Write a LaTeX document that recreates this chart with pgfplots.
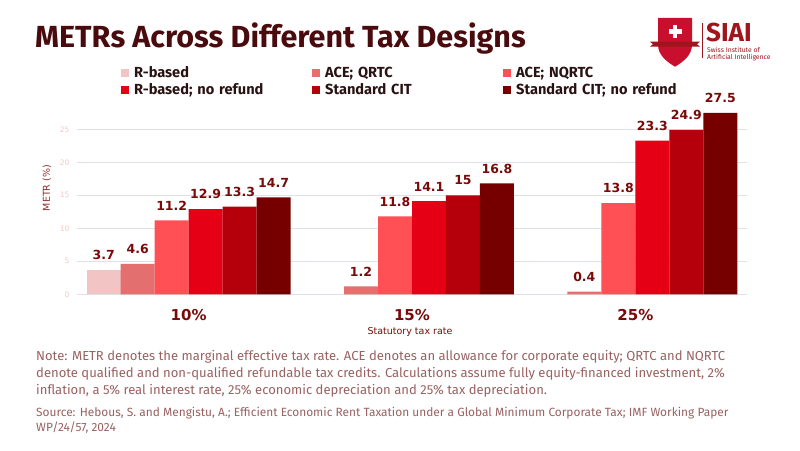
\documentclass[border=0pt]{standalone}
\usepackage{fontspec}
\setmainfont{Fira Sans}
\newfontfamily\dejavu{DejaVu Sans}
\usepackage{pgfplots}
\pgfplotsset{compat=1.18}
\definecolor{c1}{HTML}{F2C4C4}
\definecolor{c2}{HTML}{E36F6F}
\definecolor{c3}{HTML}{FF5055}
\definecolor{c4}{HTML}{E60016}
\definecolor{c5}{HTML}{B5000B}
\definecolor{c6}{HTML}{760000}
\definecolor{titlec}{HTML}{4A0B0E}
\definecolor{labc}{HTML}{7A0A0A}
\definecolor{ylabc}{HTML}{8E2E2E}
\definecolor{tickc}{HTML}{F5C8C8}
\definecolor{gridc}{HTML}{DFE1EA}
\definecolor{notec}{HTML}{9A6262}
\definecolor{legc}{HTML}{2A1212}
\definecolor{logor}{HTML}{C8102E}
\definecolor{logod}{HTML}{A0141E}
\begin{document}
\begin{tikzpicture}
\useasboundingbox[fill=white] (0,0) rectangle (800pt,450pt);
% title
\node[anchor=base west, text=titlec, font=\bfseries\fontsize{30.5}{30.5}\selectfont, inner sep=0pt] at (35pt,402pt) {METRs Across Different Tax Designs};
% logo
\fill[logor] (658pt,432pt) -- (692pt,432pt) -- (692pt,405pt) .. controls (692pt,395pt) and (683pt,388pt) .. (675pt,383.3pt) .. controls (667pt,388pt) and (658pt,395pt) .. (658pt,405pt) -- cycle;
\fill[logod] (650pt,408.3pt) -- (700pt,408.3pt) -- (697pt,405.8pt) -- (700pt,403.3pt) -- (650pt,403.3pt) -- (653pt,405.8pt) -- cycle;
\fill[white] (672.8pt,412pt) rectangle (677.2pt,425pt);
\fill[white] (668.5pt,416.3pt) rectangle (681.5pt,420.7pt);
\draw[logod, line width=0.8pt] (702pt,427pt) -- (702pt,392pt);
\node[anchor=base west, inner sep=0pt, text=logod, font=\bfseries\fontsize{26}{26}\selectfont] at (706pt,408.5pt) {SIAI};
\node[anchor=base west, inner sep=0pt, text=logod, font=\fontsize{6.8}{7}\selectfont] at (707pt,397.3pt) {Swiss Institute of};
\node[anchor=base west, inner sep=0pt, text=logod, font=\fontsize{6.8}{7}\selectfont] at (707pt,390.8pt) {Artificial Intelligence};
\begin{axis}[
  at={(77pt,155.7pt)}, anchor=south west, scale only axis,
  width=670pt, height=198pt,
  xmin=-0.5, xmax=2.5, ymin=0, ymax=30,
  ybar=0pt, bar width=0.1522,
  axis line style={draw=none}, major tick length=0pt,
  ymajorgrids, grid style={gridc, line width=0.9pt},
  ytick={0,5,...,25},
  yticklabel style={font=\dejavu\fontsize{7.5}{8}\selectfont, text=tickc, xshift=-4pt},
  /pgf/number format/assume math mode=true,
  xtick={0,1,2}, xticklabels={10\%,15\%,25\%},
  xticklabel style={font=\dejavu\bfseries\fontsize{15}{15}\selectfont, text=labc, yshift=-12pt},
  nodes near coords,
  every node near coord/.append style={font=\dejavu\bfseries\fontsize{12.5}{12.5}\selectfont, text=labc, anchor=south, inner sep=0pt, yshift=10pt},
  legend columns=3,
  legend image code/.code={\fill[#1, draw=none] (0pt,-4pt) rectangle (8pt,4pt);},
  legend style={draw=none, fill=none, at={(0.0612,1.16)}, anchor=north west,
    font=\bfseries\fontsize{14.6}{14.6}\selectfont, text=legc,
    nodes={text width=178pt, inner xsep=0pt, inner ysep=0pt, align=left},
    /tikz/every odd column/.append style={column sep=5pt}, row sep=4.5pt},
]
\addplot[fill=c1, draw=none] coordinates {(0,3.7)};
\addplot[fill=c2, draw=none] coordinates {(0,4.6) (1,1.2) (2,0.4)};
\addplot[fill=c3, draw=none] coordinates {(0,11.2) (1,11.8) (2,13.8)};
\addplot[fill=c4, draw=none] coordinates {(0,12.9) (1,14.1) (2,23.3)};
\addplot[fill=c5, draw=none] coordinates {(0,13.3) (1,15) (2,24.9)};
\addplot[fill=c6, draw=none] coordinates {(0,14.7) (1,16.8) (2,27.5)};
\legend{R-based, ACE; QRTC, ACE; NQRTC, R-based; no refund, Standard CIT, Standard CIT; no refund}
\end{axis}
\node[rotate=90, text=ylabc, font=\dejavu\fontsize{9.5}{10}\selectfont] at (47pt,262pt) {METR (\%)};
\node[text=labc, font=\dejavu\fontsize{9.5}{10}\selectfont] at (410pt,118pt) {Statutory tax rate};
% notes
\node[anchor=north west, inner sep=0pt, text=notec, align=left, font=\fontsize{13.05}{16.7}\selectfont] at (36pt,99.5pt) {Note: METR denotes the marginal effective tax rate. ACE denotes an allowance for corporate equity; QRTC and NQRTC\\denote qualified and non-qualified refundable tax credits. Calculations assume fully equity-financed investment, 2\%\\inflation, a 5\% real interest rate, 25\% economic depreciation and 25\% tax depreciation.};
\node[anchor=north west, inner sep=0pt, text=notec, align=left, font=\fontsize{11.9}{14.7}\selectfont] at (36pt,43pt) {Source: Hebous, S. and Mengistu, A.; Efficient Economic Rent Taxation under a Global Minimum Corporate Tax; IMF Working Paper\\WP/24/57, 2024};
\end{tikzpicture}
\end{document}
